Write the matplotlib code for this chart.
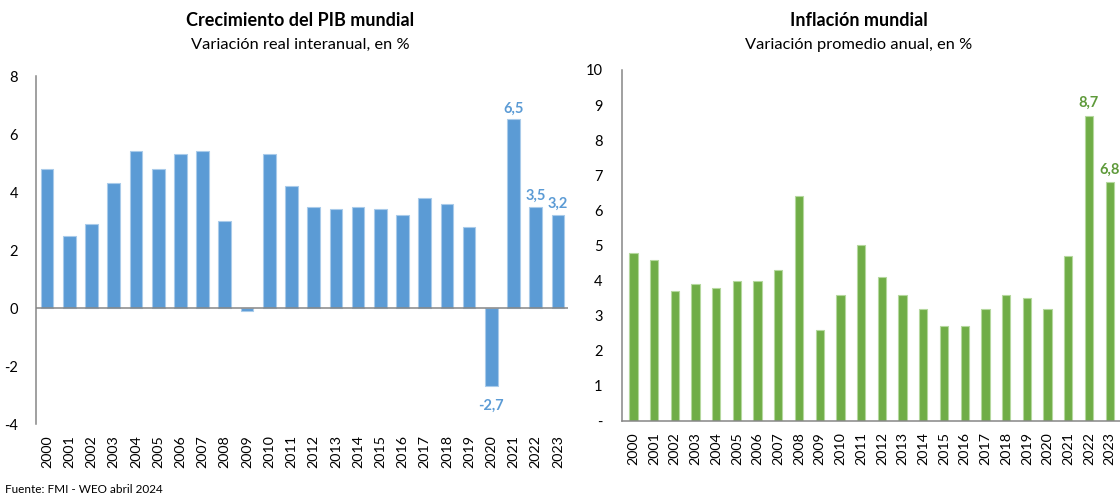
import matplotlib
matplotlib.use("Agg")
from matplotlib import pyplot as plt

plt.rcParams['font.family'] = ['Lato', 'DejaVu Sans']
plt.rcParams['axes.unicode_minus'] = False

# datos
anios = [str(a) for a in range(2000, 2024)]
pib = [4.8, 2.5, 2.9, 4.3, 5.4, 4.8, 5.3, 5.4, 3.0, -0.1, 5.3, 4.2,
       3.5, 3.4, 3.5, 3.4, 3.2, 3.8, 3.6, 2.8, -2.7, 6.5, 3.5, 3.2]
inflacion = [4.8, 4.6, 3.7, 3.9, 3.8, 4.0, 4.0, 4.3, 6.4, 2.6, 3.6, 5.0,
             4.1, 3.6, 3.2, 2.7, 2.7, 3.2, 3.6, 3.5, 3.2, 4.7, 8.7, 6.8]
etiquetas_pib = ['2021', '2022', '2023', '2020']
etiquetas_inf = ['2022', '2023']

azul = '#5B9BD5'
verde = '#70AD47'
gris = '#868686'

fig = plt.figure(figsize=(11.2, 4.94), dpi=100)

# --- PIB ---
ax1 = fig.add_axes([36/1120, 1-424/494, 532/1120, 348/494])
x = list(range(len(anios)))
ax1.bar(x, pib, 0.57, color=azul, edgecolor='#A9CBEA', linewidth=0.8)
ax1.set_xlim(-0.5, 23.45)
ax1.set_ylim(-4, 8)
ax1.set_yticks([-4, -2, 0, 2, 4, 6, 8])
ax1.axhline(0, color=gris, linewidth=1.1, zorder=3)
ax1.set_xticks(x)
ax1.set_xticklabels(anios, rotation=90, fontsize=10.3)
for s in ['top', 'right', 'bottom']:
    ax1.spines[s].set_visible(False)
ax1.spines['left'].set_color(gris)
ax1.spines['left'].set_linewidth(1.1)
ax1.tick_params(axis='y', length=0, pad=13, labelsize=10.5)
ax1.tick_params(axis='x', length=0, pad=8)
for i, v in enumerate(pib):
    if anios[i] in etiquetas_pib:
        txt = ('%.1f' % v).replace('.', ',')
        if v < 0:
            ax1.annotate(txt, (i, v), xytext=(0, -9), textcoords='offset points',
                         ha='center', va='top', color=azul, fontweight='bold', fontsize=10.5)
        else:
            ax1.annotate(txt, (i, v), xytext=(0, 3), textcoords='offset points',
                         ha='center', va='bottom', color=azul, fontweight='bold', fontsize=10.5)

# --- Inflacion ---
ax2 = fig.add_axes([622/1120, 1-421/494, 498/1120, 351/494])
ax2.bar(x, inflacion, 0.40, color=verde, edgecolor='#B5D89E', linewidth=0.8)
ax2.set_xlim(-0.55, 23.5)
ax2.set_ylim(0, 10)
ax2.set_yticks(range(0, 11))
ax2.set_yticklabels(['-'] + [str(i) for i in range(1, 11)])
ax2.set_xticks(x)
ax2.set_xticklabels(anios, rotation=90, fontsize=10.3)
for s in ['top', 'right']:
    ax2.spines[s].set_visible(False)
for s in ['left', 'bottom']:
    ax2.spines[s].set_color(gris)
    ax2.spines[s].set_linewidth(1.1)
ax2.tick_params(axis='y', length=0, pad=14, labelsize=10.5)
ax2.tick_params(axis='x', length=0, pad=8)
for i, v in enumerate(inflacion):
    if anios[i] in etiquetas_inf:
        txt = ('%.1f' % v).replace('.', ',')
        ax2.annotate(txt, (i, v), xytext=(0, 4), textcoords='offset points',
                     ha='center', va='bottom', color='#5E9A3A', fontweight='bold', fontsize=10.5)

# titulos
fig.text(300/1120, 1-21/494, 'Crecimiento del PIB mundial', ha='center', va='center',
         fontsize=13, fontweight='bold')
fig.text(300/1120, 1-45/494, 'Variación real interanual, en %', ha='center', va='center',
         fontsize=11.8)
fig.text(859/1120, 1-21/494, 'Inflación mundial', ha='center', va='center',
         fontsize=13, fontweight='bold')
fig.text(859/1120, 1-45/494, 'Variación promedio anual, en %', ha='center', va='center',
         fontsize=11.8)
fig.text(5/1120, 1-489/494, 'Fuente: FMI - WEO abril 2024', ha='left', va='center',
         fontsize=8.5)

fig.savefig('out.png', dpi=100)
